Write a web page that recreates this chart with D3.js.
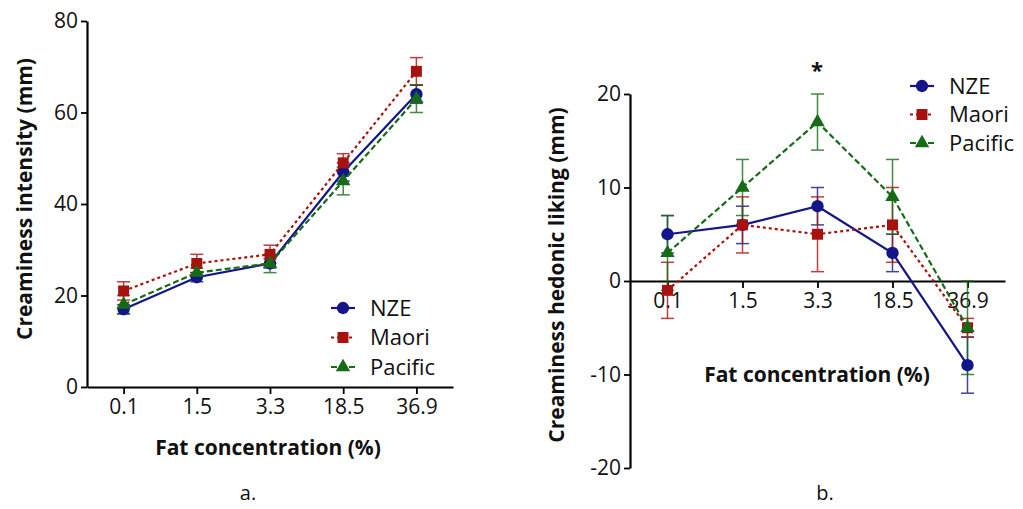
<!DOCTYPE html>
<html>
<head>
<meta charset="utf-8">
<script src="https://cdn.jsdelivr.net/npm/d3@7"></script>
<style>
  body { margin: 0; background: #fff; }
  svg { display: block; font-family: "Open Sans", sans-serif; }
</style>
</head>
<body>
<div id="chart"></div>
<script>
// x categories: fat concentration (%)
const fatLevels = ['0.1', '1.5', '3.3', '18.5', '36.9'];
const groupNames = ['NZE', 'Maori', 'Pacific'];

// panel a. creaminess intensity (mm), means and error half-widths
const intensityNZE = [17, 24, 27, 47, 64];
const intensityMaori = [21, 27, 29, 49, 69];
const intensityPacific = [18, 25, 27, 45, 63];
const intensityErrNZE = [1, 1, 1, 2, 2];
const intensityErrMaori = [2, 2, 2, 2, 3];
const intensityErrPacific = [2, 1, 2, 3, 3];
const intensityTicks = [0, 20, 40, 60, 80];

// panel b. creaminess hedonic liking (mm)
const likingNZE = [5, 6, 8, 3, -9];
const likingMaori = [-1, 6, 5, 6, -5];
const likingPacific = [3, 10, 17, 9, -5];
const likingErrNZE = [2, 2, 2, 2, 3];
const likingErrMaori = [3, 3, 4, 4, 1];
const likingErrPacific = [4, 3, 3, 4, 5];
const likingTicks = [-20, -10, 0, 10, 20];

const W = 1023, H = 509;

const styles = {
  NZE: { color: '#15158a', dash: null, shape: d3.symbolCircle, size: 120 },
  Maori: { color: '#a8120e', dash: '3,3', shape: d3.symbolSquare, size: 120 },
  Pacific: { color: '#166b16', dash: '6,3', shape: d3.symbolTriangle, size: 90 }
};

const svg = d3.select('#chart').append('svg')
  .attr('width', W)
  .attr('height', H);

/**
 * Draw one panel: axes, error bars, lines, markers, legend.
 */
let drawPanel = p => {
  const g = svg.append('g');

  const x = d3.scalePoint()
    .domain(fatLevels)
    .range([p.left, p.right])
    .padding(0.5);

  const y = d3.scaleLinear()
    .domain(p.domain)
    .range([p.bottom, p.top]);

  const series = groupNames.map((name, i) => ({
    name: name,
    values: p.means[i].map((v, j) => ({ cat: fatLevels[j], v: v, e: p.errs[i][j] }))
  }));

  // y axis (plain hyphen for negatives, as in the original)
  const yAxis = g.append('g')
    .attr('transform', 'translate(' + p.left + ',0)')
    .call(d3.axisLeft(y).tickValues(p.yTicks).tickFormat(d => String(d))
      .tickSize(6).tickSizeOuter(0).tickPadding(3));
  yAxis.select('.domain').attr('stroke-width', 2.2);
  yAxis.selectAll('.tick line').attr('stroke-width', 1.8);
  yAxis.selectAll('.tick text')
    .attr('font-size', 21)
    .attr('fill', '#111')
    .attr('font-family', '"Open Sans", sans-serif');

  // x axis
  const xAxis = g.append('g')
    .attr('transform', 'translate(0,' + y(p.xAt) + ')')
    .call(d3.axisBottom(x).tickSize(7).tickSizeOuter(0).tickPadding(5));
  xAxis.select('.domain').attr('stroke-width', 2.2);
  xAxis.selectAll('.tick line').attr('stroke-width', 1.8);
  xAxis.selectAll('.tick text')
    .attr('font-size', 21)
    .attr('fill', '#111')
    .attr('font-family', '"Open Sans", sans-serif');

  // error bars
  series.forEach(s => {
    const st = styles[s.name];
    const eb = g.append('g').attr('stroke', st.color).attr('stroke-width', 1.5).attr('opacity', 0.8);
    s.values.forEach(d => {
      const cx = x(d.cat);
      eb.append('line').attr('x1', cx).attr('x2', cx).attr('y1', y(d.v - d.e)).attr('y2', y(d.v + d.e));
      [d.v - d.e, d.v + d.e].forEach(c => {
        eb.append('line').attr('x1', cx - 6.5).attr('x2', cx + 6.5).attr('y1', y(c)).attr('y2', y(c));
      });
    });
  });

  // lines and markers
  series.forEach(s => {
    const st = styles[s.name];
    g.append('path')
      .datum(s.values)
      .attr('fill', 'none')
      .attr('stroke', st.color)
      .attr('stroke-width', 2.2)
      .attr('stroke-dasharray', st.dash)
      .attr('d', d3.line().x(d => x(d.cat)).y(d => y(d.v)));
    g.selectAll(null)
      .data(s.values)
      .enter().append('path')
        .attr('transform', d => 'translate(' + x(d.cat) + ',' + y(d.v) + ')')
        .attr('fill', st.color)
        .attr('d', d3.symbol().type(st.shape).size(st.size));
  });

  // axis titles
  g.append('text')
    .attr('x', p.xTitle[0]).attr('y', p.xTitle[1])
    .attr('text-anchor', 'middle')
    .attr('font-weight', 'bold')
    .attr('font-size', 21)
    .attr('fill', '#111')
    .text('Fat concentration (%)');

  g.append('text')
    .attr('transform', 'translate(' + p.yTitle[0] + ',' + p.yTitle[1] + ') rotate(-90)')
    .attr('text-anchor', 'middle')
    .attr('font-weight', 'bold')
    .attr('font-size', 21)
    .attr('fill', '#111')
    .text(p.yLabel);

  // panel letter
  g.append('text')
    .attr('x', p.letter[0]).attr('y', p.letter[1])
    .attr('text-anchor', 'middle')
    .attr('font-size', 20)
    .attr('fill', '#111')
    .text(p.letterText);

  // legend
  const lg = g.append('g').attr('transform', 'translate(' + p.legend[0] + ',' + p.legend[1] + ')');
  groupNames.forEach((name, i) => {
    const st = styles[name];
    const row = lg.append('g').attr('transform', 'translate(0,' + i * p.legendStep + ')');
    row.append('line')
      .attr('x1', -12).attr('x2', 12)
      .attr('stroke', st.color).attr('stroke-width', 2.2)
      .attr('stroke-dasharray', st.dash);
    row.append('path')
      .attr('fill', st.color)
      .attr('d', d3.symbol().type(st.shape).size(st.size));
    row.append('text')
      .attr('x', 27).attr('dy', '0.36em')
      .attr('font-size', 22)
      .attr('fill', '#111')
      .text(name);
  });

  return g;
};

drawPanel({
  left: 87, right: 453, top: 21, bottom: 387,
  domain: [0, 80], yTicks: intensityTicks, xAt: 0,
  means: [intensityNZE, intensityMaori, intensityPacific],
  errs: [intensityErrNZE, intensityErrMaori, intensityErrPacific],
  xTitle: [268, 455], yTitle: [32, 199],
  yLabel: 'Creaminess intensity (mm)',
  letter: [248, 500], letterText: 'a.',
  legend: [343, 308], legendStep: 29.5
});

const panelB = drawPanel({
  left: 630, right: 1005, top: 94, bottom: 468,
  domain: [-20, 20], yTicks: likingTicks, xAt: 0,
  means: [likingNZE, likingMaori, likingPacific],
  errs: [likingErrNZE, likingErrMaori, likingErrPacific],
  xTitle: [817, 382], yTitle: [564, 275],
  yLabel: 'Creaminess hedonic liking (mm)',
  letter: [825, 500], letterText: 'b.',
  legend: [922, 86], legendStep: 28.5
});

// significance mark above 3.3 in panel b
panelB.append('text')
  .attr('x', 817).attr('y', 78)
  .attr('text-anchor', 'middle')
  .attr('font-weight', 'bold')
  .attr('font-size', 22)
  .attr('fill', '#111')
  .text('*');
</script>
</body>
</html>
